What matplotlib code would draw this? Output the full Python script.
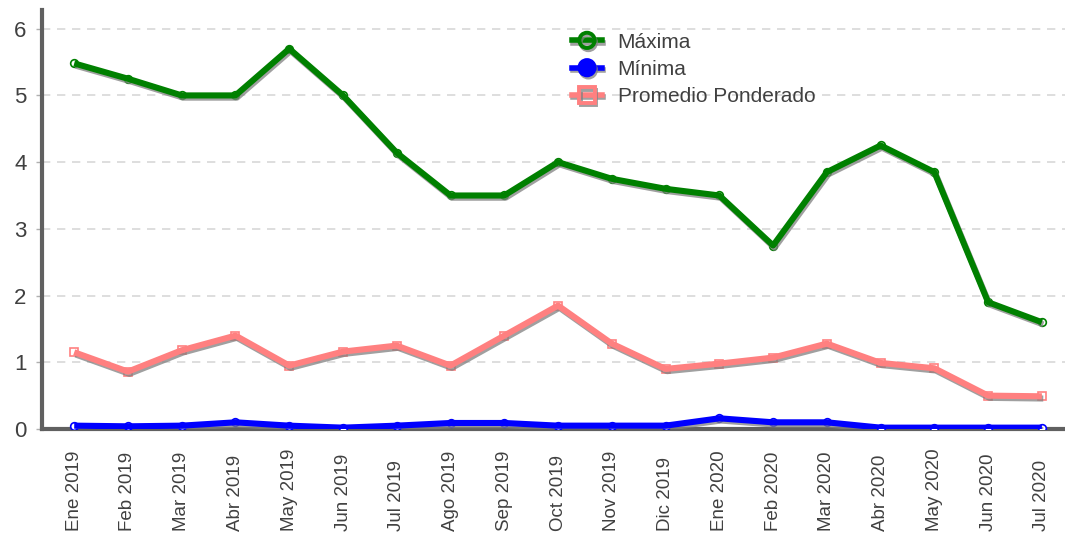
import matplotlib
matplotlib.use("Agg")
import matplotlib.pyplot as plt
import matplotlib.patheffects as pe
from matplotlib.lines import Line2D
from matplotlib.transforms import blended_transform_factory

plt.rcParams['font.family'] = ['Liberation Sans', 'DejaVu Sans']

months = ["Ene 2019", "Feb 2019", "Mar 2019", "Abr 2019", "May 2019", "Jun 2019",
          "Jul 2019", "Ago 2019", "Sep 2019", "Oct 2019", "Nov 2019", "Dic 2019",
          "Ene 2020", "Feb 2020", "Mar 2020", "Abr 2020", "May 2020", "Jun 2020",
          "Jul 2020"]
maxima = [5.48, 5.25, 5.0, 5.0, 5.7, 5.0, 4.14, 3.5, 3.5, 4.0, 3.75, 3.6,
          3.5, 2.75, 3.85, 4.25, 3.85, 1.9, 1.6]
minima = [0.05, 0.04, 0.05, 0.10, 0.05, 0.02, 0.05, 0.09, 0.09, 0.05, 0.05, 0.05,
          0.16, 0.10, 0.10, 0.02, 0.02, 0.02, 0.02]
promedio = [1.15, 0.86, 1.18, 1.40, 0.95, 1.16, 1.25, 0.95, 1.40, 1.85, 1.28, 0.90,
            0.98, 1.07, 1.28, 0.99, 0.91, 0.50, 0.49]
series_names = ["Máxima", "Mínima", "Promedio Ponderado"]
yticks = [0, 1, 2, 3, 4, 5, 6]

GREEN = "#008000"
BLUE = "#0000FF"
PINK = "#FF8080"
TEXT = "#404040"
SPINE = "#606060"

fig = plt.figure(figsize=(10.65, 5.42), dpi=100)
ax = fig.add_axes([0.0394, 0.2085, 0.9606, 0.773])

x = list(range(len(months)))
shadow = [pe.SimpleLineShadow(offset=(1.0, -1.6), shadow_color="#808080", alpha=0.75),
          pe.Normal()]

specs = [(maxima, GREEN, "o"), (minima, BLUE, "o"), (promedio, PINK, "s")]
for vals, col, mk in specs:
    # small hollow markers underneath, thick line drawn over them
    ax.plot(x, vals, linestyle="none", marker=mk, markersize=5.5,
            markerfacecolor="white", markeredgecolor=col, markeredgewidth=1.2,
            zorder=3)
    ax.plot(x, vals, color=col, linewidth=4.4, solid_capstyle="butt",
            solid_joinstyle="round", zorder=4, path_effects=shadow)

ax.set_xlim(-0.6, 18.43)
ax.set_ylim(0, 6.28)
ax.set_yticks(yticks)
ax.set_xticks(x)
ax.set_xticklabels([])
ax.tick_params(axis="y", labelsize=16, labelcolor=TEXT, length=4, width=1,
               color="#b0b0b0", pad=7)
ax.tick_params(axis="x", length=0)

# month labels, rotated and aligned on their starting end
tr = blended_transform_factory(ax.transData, fig.transFigure)
for xi, m in zip(x, months):
    ax.text(xi, 0.021, m, transform=tr, rotation=90, ha="center", va="bottom",
            fontsize=13.5, color=TEXT)

ax.grid(axis="y", color="#d8d8d8", linestyle=(0, (5, 4)), linewidth=1.2, zorder=0)
ax.set_axisbelow(True)

for s in ("top", "right"):
    ax.spines[s].set_visible(False)
for s in ("left", "bottom"):
    ax.spines[s].set_color(SPINE)
    ax.spines[s].set_linewidth(3)
    ax.spines[s].set_zorder(2)

handles = []
for (vals, col, mk), name in zip(specs, series_names):
    face = col if col == BLUE else "none"
    handles.append(Line2D([], [], color=col, linewidth=4, marker=mk, markersize=11,
                          markerfacecolor=face, markeredgecolor=col,
                          markeredgewidth=2.8, label=name, path_effects=shadow))
leg = ax.legend(handles=handles, loc="upper left", bbox_to_anchor=(0.518, 0.946),
                frameon=False, fontsize=15, handlelength=1.45, handletextpad=0.75,
                labelspacing=0.4, borderaxespad=0, borderpad=0)
for t in leg.get_texts():
    t.set_color(TEXT)

fig.savefig("out.png", dpi=100, facecolor="white")
